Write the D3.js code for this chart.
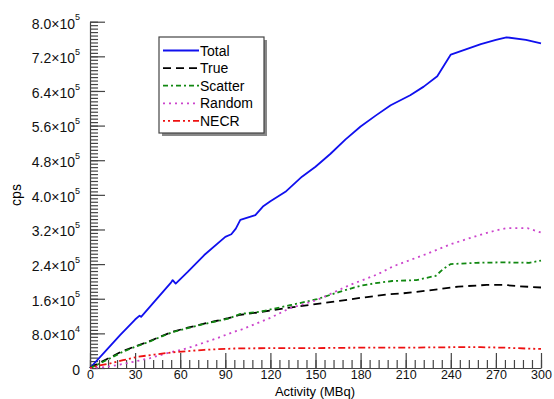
<!DOCTYPE html>
<html>
<head>
<meta charset="utf-8">
<script src="https://cdn.jsdelivr.net/npm/d3@7"></script>
<style>
  body { margin: 0; background: #fff; }
  svg { font-family: "Liberation Sans", Arial, Helvetica, sans-serif; }
  .axis path, .axis line { stroke: #444; }
  .axis text { fill: #111; }
</style>
</head>
<body>
<div id="container"></div>
<script>
var totalWidth = 554,
    totalHeight = 399;

// data (activity in MBq, rates in counts per second)
var totalX = [0, 10, 20, 30, 33, 34, 45, 54, 55, 57, 65, 76, 90, 94, 97, 100, 110, 115, 120, 130, 141, 150, 160, 170, 180, 190, 200, 213, 222, 231, 240, 250, 260, 270, 277, 290, 300];
var totalY = [0, 38000, 76000, 112000, 121000, 118000, 162000, 198000, 203000, 195000, 222000, 261000, 303000, 309000, 322000, 342000, 353000, 373000, 385000, 407000, 442000, 465000, 495000, 528000, 558000, 583000, 607000, 630000, 650000, 674000, 724000, 736000, 748000, 758000, 764000, 758000, 750000];

var trueX = [0, 5, 12, 21, 30, 39, 47, 55, 65, 74, 83, 92, 100, 107, 122, 140, 166, 180, 198, 207, 225, 245, 264, 275, 285, 300];
var trueY = [0, 10000, 22000, 38000, 50000, 61000, 73000, 84000, 93000, 101000, 108000, 115000, 123000, 126000, 134000, 143000, 155000, 162000, 170000, 172000, 179000, 188000, 192000, 192000, 189000, 186000];

var scatterX = [0, 5, 12, 21, 30, 39, 47, 55, 65, 74, 83, 92, 100, 113, 133, 151, 166, 180, 190, 201, 217, 230, 235, 240, 257, 274, 292, 300];
var scatterY = [0, 8000, 20000, 36000, 49000, 60000, 72000, 83000, 92000, 100000, 107000, 114000, 125000, 130000, 145000, 159000, 176000, 190000, 196000, 201000, 203000, 213000, 229000, 240000, 243000, 244000, 243000, 248000];

var randomX = [0, 10, 20, 30, 40, 50, 65, 83, 97, 101, 120, 133, 151, 173, 191, 200, 204, 222, 240, 258, 270, 277, 291, 300];
var randomY = [0, 2000, 8000, 15000, 23000, 33000, 46000, 67000, 85000, 89000, 116000, 138000, 157000, 192000, 216000, 232000, 238000, 261000, 286000, 306000, 318000, 323000, 323000, 313000];

var necrX = [0, 5, 14, 22, 32, 43, 54, 65, 76, 96, 120, 150, 180, 210, 240, 260, 275, 290, 300];
var necrY = [0, 5000, 11000, 18000, 26000, 31000, 36000, 39000, 42000, 45000, 46000, 46000, 47000, 47000, 48000, 48000, 47000, 45000, 44000];

var xTicks = [0, 30, 60, 90, 120, 150, 180, 210, 240, 270, 300];
var yTicks = [0, 80000, 160000, 240000, 320000, 400000, 480000, 560000, 640000, 720000, 800000];
var yTickMant = ["0", "8.0", "1.6", "2.4", "3.2", "4.0", "4.8", "5.6", "6.4", "7.2", "8.0"];
var yTickExp = ["", "4", "5", "5", "5", "5", "5", "5", "5", "5", "5"];

var seriesNames = ["Total", "True", "Scatter", "Random", "NECR"];
var seriesColors = ["#1010ee", "#000000", "#118811", "#cc44cc", "#ee1111"];
var seriesDash = ["", "8,5", "5,3,2,3", "2,4", "2,3,2,3,7,3"];
var seriesWidth = [1.8, 1.8, 1.8, 1.8, 1.8];

var seriesData = [
  [totalX, totalY], [trueX, trueY], [scatterX, scatterY], [randomX, randomY], [necrX, necrY]
].map(function(p) {
  return p[0].map(function(x, i) { return {x: x, y: p[1][i]}; });
});

var xScale = d3.scaleLinear().domain([0, 300]).range([90, 541]);
var yScale = d3.scaleLinear().domain([0, 800000]).range([368, 21.7]);

var svg = d3.select("#container")
            .append("svg")
            .attr("width", totalWidth)
            .attr("height", totalHeight);

// minor ticks
svg.append("g")
   .attr("class", "axis")
   .attr("transform", "translate(0,368)")
   .call(d3.axisBottom(xScale).tickValues(d3.range(0, 301, 6)).tickSize(-8).tickFormat(""))
   .call(function(g) { g.select(".domain").remove(); });
svg.append("g")
   .attr("class", "axis")
   .attr("transform", "translate(90,0)")
   .call(d3.axisLeft(yScale).tickValues(d3.range(0, 800001, 8000)).tickSize(-8).tickFormat(""))
   .call(function(g) { g.select(".domain").remove(); });

// major ticks + labels
var xAxis = svg.append("g")
   .attr("class", "axis")
   .attr("transform", "translate(0,368)")
   .call(d3.axisBottom(xScale).tickValues(xTicks).tickSizeInner(-15).tickSizeOuter(0).tickPadding(2.5))
   .attr("font-size", 12.5)
   .attr("font-family", null);

var yAxis = svg.append("g")
   .attr("class", "axis")
   .attr("transform", "translate(90,0)")
   .call(d3.axisLeft(yScale).tickValues(yTicks).tickSizeInner(-15).tickSizeOuter(0).tickPadding(10).tickFormat(""))
   .attr("font-size", 14)
   .attr("font-family", null);

yAxis.selectAll(".tick text").each(function(d, i) {
  var t = d3.select(this).attr("dy", "0.45em");
  if (yTickExp[i] === "") {
    t.text(yTickMant[i]);
    return;
  }
  t.append("tspan").text(yTickMant[i] + "\u00d710");
  t.append("tspan").attr("font-size", 9).attr("dy", "-0.9em").text(yTickExp[i]);
});

svg.selectAll(".axis line, .axis path").attr("stroke", "#444").attr("stroke-width", 1.2);

// axis titles
svg.append("text")
   .attr("x", 315).attr("y", 396.3)
   .attr("text-anchor", "middle")
   .attr("font-size", 13)
   .text("Activity (MBq)");
svg.append("text")
   .attr("transform", "translate(21,195) rotate(-90)")
   .attr("text-anchor", "middle")
   .attr("font-size", 14)
   .text("cps");

// series
var line = d3.line()
             .x(function(d) { return xScale(d.x); })
             .y(function(d) { return yScale(d.y); });

svg.append("g")
   .selectAll("path")
   .data(seriesData).enter()
   .append("path")
   .attr("fill", "none")
   .attr("stroke", function(d, i) { return seriesColors[i]; })
   .attr("stroke-width", function(d, i) { return seriesWidth[i]; })
   .attr("stroke-dasharray", function(d, i) { return seriesDash[i]; })
   .attr("stroke-linejoin", "round")
   .attr("d", line);

// legend
var legendWrap = svg.append("g").attr("transform", "translate(159,37)");
legendWrap.append("rect")
          .attr("x", 3).attr("y", 3).attr("width", 105).attr("height", 96)
          .attr("fill", "#888");
legendWrap.append("rect")
          .attr("x", 0).attr("y", 0).attr("width", 105).attr("height", 96)
          .attr("fill", "#fff").attr("stroke", "#444").attr("stroke-width", 1.2);
var series = legendWrap.selectAll(".series")
          .data(seriesNames).enter()
          .append("g").attr("class", "series")
          .attr("transform", function(d, i) { return "translate(0," + (13.5 + i * 17.6) + ")"; });
series.append("line")
      .attr("x1", 4).attr("x2", 40)
      .attr("stroke", function(d, i) { return seriesColors[i]; })
      .attr("stroke-width", 1.8)
      .attr("stroke-dasharray", function(d, i) { return seriesDash[i]; });
series.append("text")
      .attr("x", 41)
      .attr("dy", "0.36em")
      .attr("font-size", 14)
      .text(function(d) { return d; });
</script>
</body>
</html>
